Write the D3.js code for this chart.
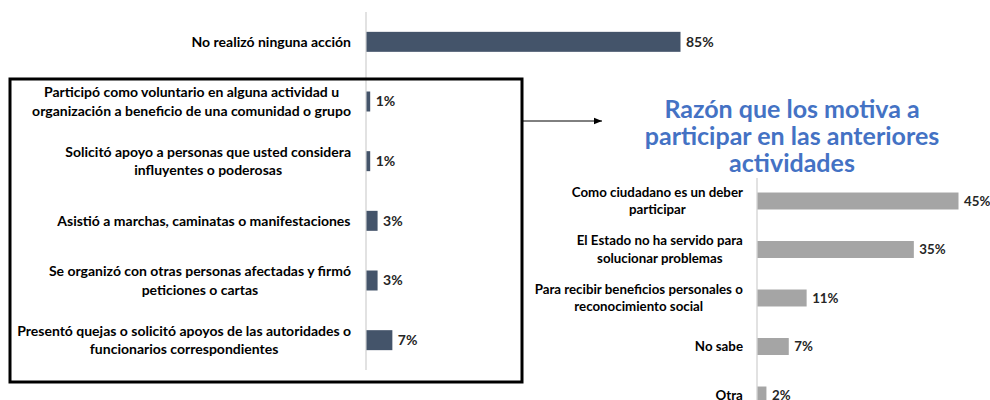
<!DOCTYPE html>
<html><head><meta charset="utf-8">
<script src="https://cdn.jsdelivr.net/npm/d3@7"></script>
<style>body{margin:0;background:#fff}svg{display:block}</style>
</head><body>
<svg id="c" width="990" height="400"></svg>
<script>
const leftCategories = [
  "No realizó ninguna acción",
  "Participó como voluntario en alguna actividad u|organización a beneficio de una comunidad o grupo",
  "Solicitó apoyo a personas que usted considera|influyentes o poderosas",
  "Asistió a marchas, caminatas o manifestaciones",
  "Se organizó con otras personas afectadas y firmó|peticiones o cartas",
  "Presentó quejas o solicitó apoyos de las autoridades o|funcionarios correspondientes"
];
const leftValues = [85, 1, 1, 3, 3, 7];
const rightCategories = [
  "Como ciudadano es un deber|participar",
  "El Estado no ha servido para|solucionar problemas",
  "Para recibir beneficios personales o|reconocimiento social",
  "No sabe",
  "Otra"
];
const rightValues = [45, 35, 11, 7, 2];
const titleLines = ["Razón que los motiva a", "participar en las anteriores", "actividades"];

const svg = d3.select("#c");
const font = "Lato, 'Open Sans', sans-serif";

function drawChart(cats, vals, o) {
  const g = svg.append("g");
  const x = d3.scaleLinear().domain([0, o.max]).range([o.x0, o.x1]);
  const y = d3.scaleBand().domain(cats).range([o.y0, o.y1]).paddingInner(o.pad).paddingOuter(o.pad / 2);
  g.append("line").attr("x1", o.x0).attr("x2", o.x0).attr("y1", o.axTop).attr("y2", o.axBot)
    .attr("stroke", "#d9d9d9").attr("stroke-width", 1.5);
  const rows = g.selectAll("g.row").data(cats.map((c, i) => ({c, v: vals[i]}))).join("g");
  rows.append("rect").attr("x", o.x0 + 0.5).attr("y", d => y(d.c))
    .attr("width", d => Math.max(0, x(d.v) - o.x0)).attr("height", y.bandwidth()).attr("fill", o.color);
  rows.append("text").attr("x", d => x(d.v) + o.valOff).attr("y", d => y(d.c) + y.bandwidth() / 2)
    .attr("dy", "0.35em").attr("font-family", font).attr("font-weight", "bold").attr("font-size", o.fs)
    .attr("fill", "#262626").text(d => d.v + "%");
  rows.each(function(d) {
    const lines = d.c.split("|");
    const cy = y(d.c) + y.bandwidth() / 2;
    const t = d3.select(this).append("text").attr("text-anchor", "middle")
      .attr("font-family", font).attr("font-weight", "bold").attr("font-size", o.fs).attr("fill", "#000");
    lines.forEach((ln, i) => {
      t.append("tspan").attr("x", 0).attr("y", cy + (i - (lines.length - 1) / 2) * o.lh).attr("dy", "0.35em").text(ln);
    });
    const bb = t.node().getBBox();
    t.attr("transform", `translate(${o.labelX - bb.width / 2},0)`);
  });
}

drawChart(leftCategories, leftValues, {
  max: 85, x0: 366, x1: 680, y0: 12, y1: 370, pad: 0.665,
  axTop: 12, axBot: 370, color: "#44546a", fs: 14, lh: 18.5, labelX: 351, valOff: 6
});
drawChart(rightCategories, rightValues, {
  max: 45, x0: 757, x1: 958, y0: 176.75, y1: 419.25, pad: 0.65,
  axTop: 178, axBot: 400, color: "#a5a5a5", fs: 13.3, lh: 17.5, labelX: 743, valOff: 6
});

svg.append("rect").attr("x", 10).attr("y", 79).attr("width", 512).attr("height", 303)
  .attr("fill", "none").attr("stroke", "#000").attr("stroke-width", 3);
svg.append("defs").append("marker").attr("id", "ah").attr("viewBox", "0 0 10 10")
  .attr("refX", 10).attr("refY", 5).attr("markerWidth", 8).attr("markerHeight", 8)
  .attr("markerUnits", "userSpaceOnUse").attr("orient", "auto")
  .append("path").attr("d", "M0,1 L10,5 L0,9 Z").attr("fill", "#000");
svg.append("line").attr("x1", 523).attr("x2", 602).attr("y1", 121).attr("y2", 121)
  .attr("stroke", "#000").attr("stroke-width", 1).attr("marker-end", "url(#ah)");

const tt = svg.append("text").attr("text-anchor", "middle").attr("font-family", font)
  .attr("font-weight", "bold").attr("font-size", 25).attr("fill", "#4472c4");
titleLines.forEach((l, i) => tt.append("tspan").attr("x", 792).attr("y", 109 + i * 27).attr("dy", "0.35em").text(l));
</script>
</body></html>
